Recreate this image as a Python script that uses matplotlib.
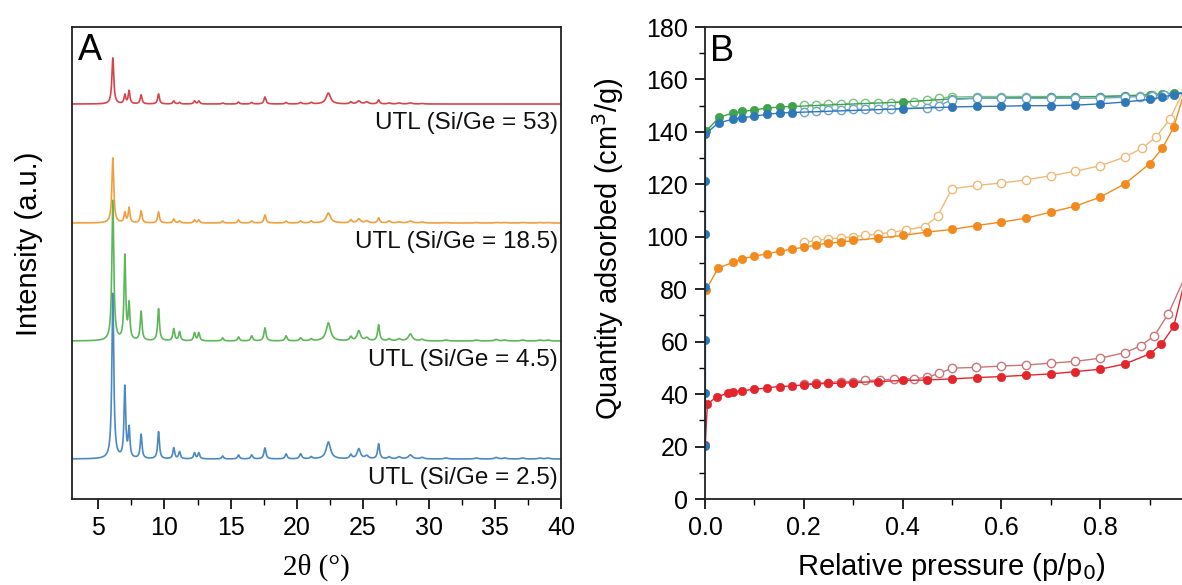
import numpy as np
import matplotlib
matplotlib.use('Agg')
import matplotlib.pyplot as plt
import matplotlib.ticker as ticker

plt.rcParams['font.family'] = ['Liberation Sans', 'DejaVu Sans']

# ---- XRD patterns (panel A) ----
# peak table shared by all UTL samples: position (2theta, deg) and FWHM (deg)
peak_pos = [6.09, 7.00, 7.32, 8.23, 9.55, 10.70, 11.14, 12.27, 12.60, 14.40, 15.60,
            16.60, 17.60, 19.20, 20.30, 21.10, 22.40, 24.10, 24.70, 25.30, 26.20,
            27.00, 27.75, 28.60, 29.50, 31.30, 33.60, 35.10, 35.75, 37.10, 38.40, 39.00]
peak_fwhm = [0.17, 0.15, 0.15, 0.16, 0.16, 0.16, 0.16, 0.16, 0.16, 0.16, 0.16,
             0.18, 0.18, 0.18, 0.20, 0.20, 0.40, 0.20, 0.30, 0.30, 0.18,
             0.25, 0.30, 0.35, 0.30, 0.30, 0.30, 0.30, 0.30, 0.30, 0.30, 0.30]

h_sige_2_5 = [165, 71, 29, 24, 27, 11, 7, 6, 6, 3, 4, 4, 11, 5, 5, 2, 17, 4, 10, 3, 15,
              2, 2, 4, 1.5, 1, 1, 1.5, 1, 1, 1, 1]
h_sige_4_5 = [140, 84, 35, 29, 32, 12, 9, 8, 8, 3, 4, 5, 13, 5, 3, 2, 18, 4, 10, 3, 16,
              2, 2, 7, 1.5, 1, 1, 1.5, 1, 1, 1, 1]
h_sige_18_5 = [65, 10, 15, 12, 11, 4, 2, 3, 3, 2, 3, 2, 8, 2, 2, 2, 10, 3, 4, 2, 5,
               2, 1, 2, 1, 0.5, 0.5, 0.5, 0.5, 0.5, 0.5, 0.5]
h_sige_53 = [46, 9, 13, 9, 10, 3, 1.5, 3, 3, 1, 2, 1.5, 7, 1.5, 1.5, 1.5, 11, 2, 3, 2, 4,
             1, 1, 1, 0.5, 0, 0, 0, 0, 0, 0, 0]

xrd_labels = ['UTL (Si/Ge = 2.5)', 'UTL (Si/Ge = 4.5)', 'UTL (Si/Ge = 18.5)', 'UTL (Si/Ge = 53)']
xrd_offsets = [40, 158, 276, 395]
xrd_colors = ['#4b89c5', '#5db75a', '#f29f3d', '#d9434b']

# ---- N2 isotherms (panel B): filled = adsorption, open = desorption ----
red_ads_x = [0.0005, 0.005, 0.024, 0.046, 0.057, 0.076, 0.10, 0.126, 0.151, 0.176, 0.20, 0.225,
             0.25, 0.275, 0.30, 0.351, 0.40, 0.45, 0.50, 0.55, 0.60, 0.65, 0.70, 0.75, 0.80,
             0.85, 0.90, 0.924, 0.949, 0.975]
red_ads_y = [20.5, 36.2, 39.0, 40.3, 40.8, 41.3, 41.8, 42.4, 42.9, 43.1, 43.5, 43.9,
             44.1, 44.1, 44.4, 44.8, 45.2, 45.4, 45.8, 46.3, 46.7, 47.2, 47.7, 48.6, 49.5,
             51.5, 55.3, 59.0, 65.8, 86.0]
red_des_x = [0.20, 0.225, 0.25, 0.275, 0.30, 0.325, 0.354, 0.382, 0.424, 0.449, 0.474, 0.50,
             0.548, 0.60, 0.65, 0.70, 0.75, 0.80, 0.85, 0.882, 0.91, 0.938, 0.975]
red_des_y = [43.9, 44.1, 44.4, 44.8, 44.8, 45.2, 45.4, 45.7, 45.9, 46.4, 47.9, 49.9,
             50.2, 50.7, 51.1, 51.8, 52.5, 53.7, 55.8, 58.4, 62.3, 70.6, 86.0]

orange_ads_x = [0.002, 0.027, 0.056, 0.076, 0.10, 0.126, 0.151, 0.176, 0.20, 0.225, 0.25,
                0.275, 0.30, 0.351, 0.40, 0.45, 0.50, 0.55, 0.60, 0.65, 0.70, 0.75, 0.80,
                0.85, 0.90, 0.926, 0.949, 0.975]
orange_ads_y = [79.8, 88.1, 90.2, 91.6, 92.6, 93.5, 94.5, 95.3, 96.0, 96.9, 97.6,
                97.9, 98.6, 99.5, 100.5, 101.8, 102.8, 104.3, 105.6, 107.1, 109.4, 111.7, 115.1,
                120.2, 127.8, 133.8, 141.7, 158.0]
orange_des_x = [0.20, 0.225, 0.25, 0.275, 0.30, 0.325, 0.35, 0.376, 0.407, 0.445, 0.471, 0.50,
                0.55, 0.60, 0.65, 0.70, 0.75, 0.80, 0.85, 0.885, 0.913, 0.941, 0.975]
orange_des_y = [97.9, 98.6, 99.2, 99.6, 100.1, 100.5, 101.1, 101.6, 102.6, 103.9, 107.9, 118.3,
                119.6, 120.5, 121.7, 123.3, 125.0, 127.1, 130.4, 133.8, 138.0, 144.8, 158.0]

green_ads_x = [0.002, 0.029, 0.056, 0.076, 0.10, 0.126, 0.151, 0.176, 0.40, 0.50, 0.55, 0.60,
               0.65, 0.70, 0.75, 0.80, 0.85, 0.90, 0.926, 0.95, 0.975]
green_ads_y = [140.2, 145.6, 147.2, 147.8, 148.4, 149.1, 149.5, 149.7, 151.4, 152.6, 152.9, 153.0,
               153.1, 153.2, 153.3, 153.5, 153.8, 154.2, 154.5, 154.8, 155.2]
green_des_x = [0.20, 0.225, 0.25, 0.275, 0.30, 0.325, 0.35, 0.376, 0.424, 0.449, 0.474, 0.50,
               0.55, 0.60, 0.65, 0.70, 0.75, 0.80, 0.85, 0.88, 0.905, 0.93, 0.95, 0.975]
green_des_y = [150.1, 150.4, 150.6, 150.7, 150.9, 151.0, 151.1, 151.2, 151.4, 152.0, 153.0, 153.3,
               153.5, 153.5, 153.5, 153.5, 153.5, 153.5, 153.7, 153.7, 154.0, 154.2, 154.5, 155.2]

blue_ads_x = [0.001, 0.001, 0.001, 0.001, 0.001, 0.001, 0.001, 0.028, 0.056, 0.076, 0.10, 0.126,
              0.151, 0.176, 0.40, 0.50, 0.55, 0.60, 0.65, 0.70, 0.75, 0.80, 0.85, 0.90, 0.926,
              0.95, 0.975]
blue_ads_y = [20.3, 40.3, 60.7, 80.8, 101.1, 121.1, 139.3, 143.5, 144.8, 145.4, 146.0, 146.7,
              147.2, 147.4, 148.8, 149.5, 149.7, 149.8, 150.0, 150.0, 150.2, 150.7, 151.4, 152.4, 153.3,
              154.2, 155.0]
blue_des_x = [0.20, 0.225, 0.25, 0.275, 0.30, 0.325, 0.35, 0.376, 0.449, 0.474, 0.50, 0.55,
              0.60, 0.65, 0.70, 0.75, 0.80, 0.85, 0.88, 0.905, 0.93, 0.975]
blue_des_y = [147.6, 147.8, 148.2, 148.4, 148.6, 148.6, 148.8, 148.8, 149.2, 150.0, 152.3, 152.8,
              152.8, 152.8, 152.8, 152.8, 152.9, 153.2, 153.5, 153.8, 154.1, 155.0]

isotherms = [
    # (ads x, ads y, des x, des y, filled colour, open colour)
    (red_ads_x, red_ads_y, red_des_x, red_des_y, '#e3262c', '#cd7478'),
    (orange_ads_x, orange_ads_y, orange_des_x, orange_des_y, '#f28a1e', '#f1b878'),
    (green_ads_x, green_ads_y, green_des_x, green_des_y, '#3fa34d', '#7cc285'),
    (blue_ads_x, blue_ads_y, blue_des_x, blue_des_y, '#2f78b8', '#6fa3d2'),
]

pressure_ticks = [0.0, 0.2, 0.4, 0.6, 0.8]


def xrd_profile(x, heights):
    y = np.zeros_like(x)
    for pos, fwhm, h in zip(peak_pos, peak_fwhm, heights):
        y += h / (1.0 + ((x - pos) / (fwhm / 2.0)) ** 2)
    return y


def style_spines(ax):
    for side in ax.spines:
        ax.spines[side].set_linewidth(1.3)
        ax.spines[side].set_color('#222222')


fig = plt.figure(figsize=(11.82, 5.85), dpi=100)

# panel A
ax1 = fig.add_axes([0.0609, 0.147, 0.4137, 0.8068])
two_theta = np.linspace(3, 40, 4000)
heights = [h_sige_2_5, h_sige_4_5, h_sige_18_5, h_sige_53]
for h, off, col, lab in zip(heights, xrd_offsets, xrd_colors, xrd_labels):
    ax1.plot(two_theta, off + xrd_profile(two_theta, h), color=col, lw=1.2)
    ax1.text(39.75, off - 19, lab, ha='right', va='center', fontsize=17.5, color='#111111')

ax1.set_xlim(3, 40)
ax1.set_ylim(0, 472)
ax1.xaxis.set_major_locator(ticker.MultipleLocator(5))
ax1.xaxis.set_minor_locator(ticker.MultipleLocator(2.5))
ax1.set_yticks([])
ax1.tick_params(axis='x', which='major', direction='out', length=7, width=1.2, labelsize=18, pad=5)
ax1.tick_params(axis='x', which='minor', direction='out', length=4, width=1.0)
ax1.set_xlabel('2θ (°)', fontsize=21, family=['Liberation Serif', 'DejaVu Serif'])
ax1.xaxis.set_label_coords(0.5, -0.115)
ax1.set_ylabel('Intensity (a.u.)', fontsize=21)
ax1.yaxis.set_label_coords(-0.06, 0.54)
ax1.text(0.012, 0.93, 'A', transform=ax1.transAxes, fontsize=26, ha='left', va='baseline')
style_spines(ax1)

# panel B
ax2 = fig.add_axes([0.5964, 0.147, 0.4179, 0.8068])
for ax_x, ax_y, ds_x, ds_y, c_fill, c_open in isotherms:
    ax2.plot(ds_x, ds_y, '-o', color=c_open, lw=1.0, ms=6, mfc='white', mec=c_open, mew=1.0)
    ax2.plot(ax_x, ax_y, '-o', color=c_fill, lw=1.0, ms=6, mfc=c_fill, mec=c_fill, mew=0.5)

ax2.set_xlim(0, 1.0)
ax2.set_ylim(0, 180)
ax2.xaxis.set_major_locator(ticker.FixedLocator(pressure_ticks))
ax2.xaxis.set_minor_locator(ticker.MultipleLocator(0.1))
ax2.yaxis.set_major_locator(ticker.MultipleLocator(20))
ax2.yaxis.set_minor_locator(ticker.MultipleLocator(10))
ax2.xaxis.set_major_formatter(ticker.FormatStrFormatter('%.1f'))
ax2.tick_params(which='major', direction='out', length=7, width=1.2, labelsize=18, pad=5)
ax2.tick_params(which='minor', direction='out', length=4, width=1.0)
ax2.set_xlabel('Relative pressure (p/p$_0$)', fontsize=21)
ax2.xaxis.set_label_coords(0.5, -0.11)
ax2.set_ylabel('Quantity adsorbed (cm$^3$/g)', fontsize=21)
ax2.yaxis.set_label_coords(-0.16, 0.53)
ax2.text(0.01, 0.928, 'B', transform=ax2.transAxes, fontsize=26, ha='left', va='baseline')
style_spines(ax2)

fig.savefig('out.png', dpi=100)
